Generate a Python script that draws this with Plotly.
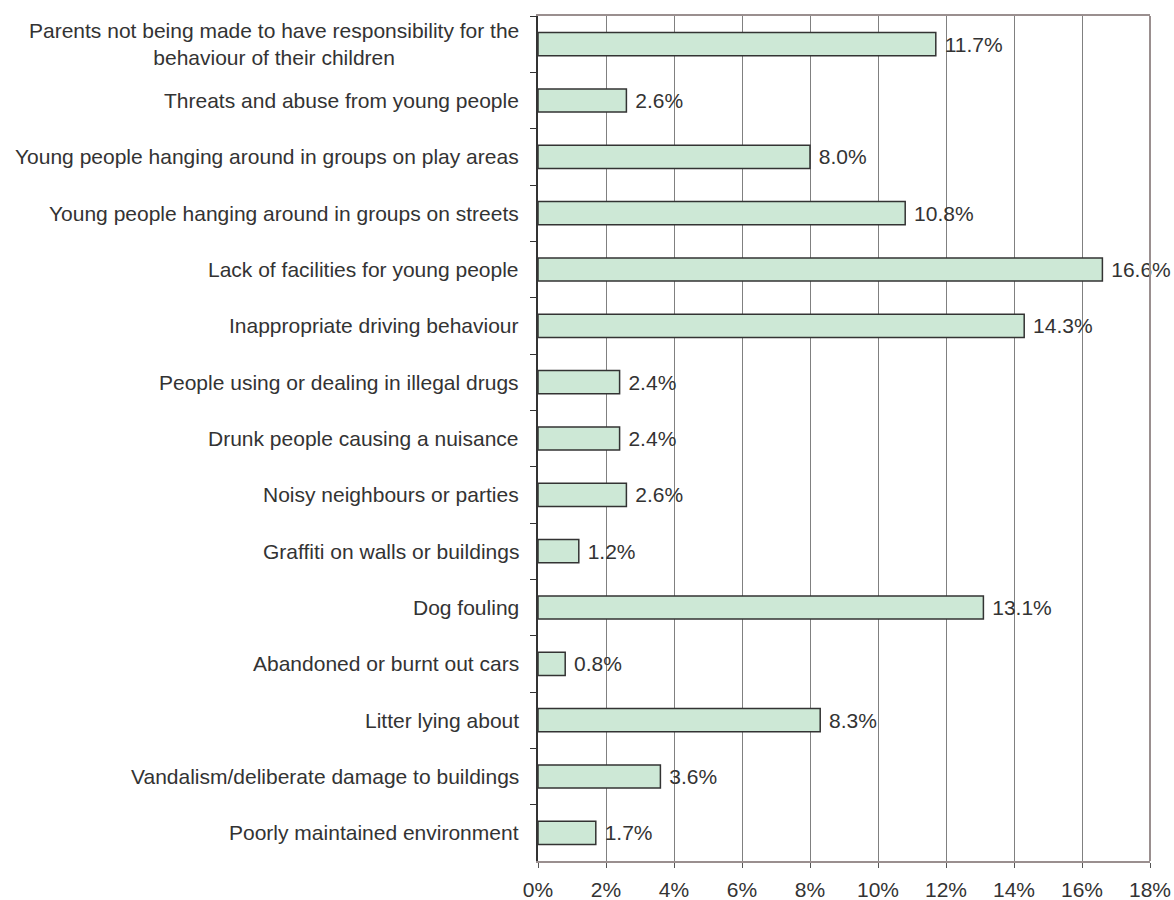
import plotly.graph_objects as go

categories = [
    "Parents not being made to have responsibility for the<br>behaviour of their children",
    "Threats and abuse from young people",
    "Young people hanging around in groups on play areas",
    "Young people hanging around in groups on streets",
    "Lack of facilities for young people",
    "Inappropriate driving behaviour",
    "People using or dealing in illegal drugs",
    "Drunk people causing a nuisance",
    "Noisy neighbours or parties",
    "Graffiti on walls or buildings",
    "Dog fouling",
    "Abandoned or burnt out cars",
    "Litter lying about",
    "Vandalism/deliberate damage to buildings",
    "Poorly maintained environment",
]
values = [11.7, 2.6, 8.0, 10.8, 16.6, 14.3, 2.4, 2.4, 2.6, 1.2, 13.1, 0.8, 8.3, 3.6, 1.7]

font = dict(family="Liberation Sans, Arial, sans-serif", size=21, color="#333333")

fig = go.Figure()
fig.add_trace(go.Bar(
    x=values, y=categories, orientation='h',
    marker=dict(color='#cde8d6', line=dict(color='#333333', width=1.5)),
    text=[f" {v:.1f}%" for v in values], textposition='outside',
    textfont=font, cliponaxis=False, width=0.41,
))

# category labels as annotations so the wrapped one is centred
for c in categories:
    fig.add_annotation(x=0, xref='paper', y=c, yref='y', text=c, showarrow=False,
                       xanchor='right', xshift=-17, align='center', font=font)

fig.add_shape(type='line', xref='paper', yref='paper', x0=1, x1=1, y0=0, y1=1,
              line=dict(color='#9a8f8f', width=2))

fig.update_layout(
    width=1174, height=900,
    margin=dict(l=538, r=24, t=16, b=39),
    plot_bgcolor='white', paper_bgcolor='white',
    font=font, showlegend=False, bargap=0.59,
    xaxis=dict(range=[0, 18], dtick=2, ticksuffix='%', showgrid=True,
               gridcolor='#808080', gridwidth=1, zeroline=False,
               showline=True, mirror=True, linecolor='#9a8f8f', linewidth=2,
               ticks='outside', ticklen=5, tickcolor='#555555',
               ticklabelstandoff=4, automargin=False),
    yaxis=dict(autorange='reversed', showticklabels=False, showgrid=False,
               showline=True, linecolor='#333333', linewidth=2, automargin=False,
               ticks='outside', ticklen=6, tickcolor='#333333', tickson='boundaries'),
)

# drop the page's default body margin so the figure fills the window exactly
fig.write_html("out.html", config={'displayModeBar': False},
               post_script="document.body.style.margin='0';document.body.style.overflow='hidden';")
